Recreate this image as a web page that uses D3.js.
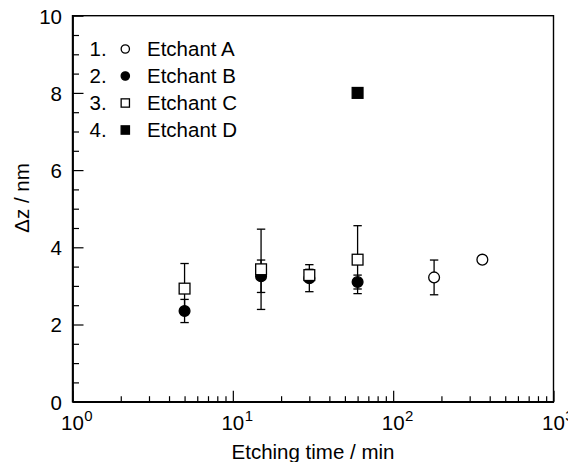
<!DOCTYPE html>
<html>
<head>
<meta charset="utf-8">
<script src="https://cdn.jsdelivr.net/npm/d3@7"></script>
<style>
  html, body { margin: 0; padding: 0; background: #fff; }
  svg { display: block; }
  text { font-family: "Liberation Sans", Arial, Helvetica, sans-serif; fill: #000; }
</style>
</head>
<body>
<svg id="chart" width="568" height="462"></svg>
<script>
// ---- data ----
const seriesNames = ["Etchant A", "Etchant B", "Etchant C", "Etchant D"];
const seriesSymbols = ["openCircle", "filledCircle", "openSquare", "filledSquare"];

const timeA = [180, 360];
const dzA   = [3.22, 3.68];
const errA  = [0.45, 0];

const timeB = [5, 15, 30, 60];
const dzB   = [2.35, 3.25, 3.2, 3.1];
const errB  = [0.3, 0.42, 0.35, 0.18];

const timeC = [5, 15, 30, 60];
const dzC   = [2.93, 3.43, 3.28, 3.68];
const errC  = [0.65, 1.04, 0.15, 0.88];

const timeD = [60];
const dzD   = [8.0];
const errD  = [0];

const xMajorTicks = [1, 10, 100, 1000];
const xTickExponents = ["0", "1", "2", "3"];
const yMajorTicks = [0, 2, 4, 6, 8, 10];
const yTickLabels = ["0", "2", "4", "6", "8", "10"];

const xTitle = "Etching time / min";
const yTitle = "\u0394z / nm";

// ---- layout ----
const FS = 20.5;
const svg = d3.select("#chart");
const L = 72.5, R = 553.5, T = 15.7, B = 401.7;

const x = d3.scaleLog().domain([1, 1000]).range([L, R]);
const y = d3.scaleLinear().domain([0, 10]).range([B, T]);

// minor ticks
const xMinor = [];
for (let d = 1; d < 1000; d *= 10) for (let k = 2; k <= 9; k++) xMinor.push(d * k);
const yMinor = d3.range(0, 10.01, 0.5).filter(v => Math.abs(v % 2) > 1e-6);

// axes via d3 (inward ticks)
const gx = svg.append("g").attr("transform", `translate(0,${B})`);
gx.call(d3.axisBottom(x).tickValues(xMinor).tickSize(-5.5).tickSizeOuter(0).tickFormat(""));
const gx2 = svg.append("g").attr("transform", `translate(0,${B})`);
gx2.call(d3.axisBottom(x).tickValues(xMajorTicks).tickSize(-11).tickSizeOuter(0).tickFormat(""));

const gy = svg.append("g").attr("transform", `translate(${L},0)`);
gy.call(d3.axisLeft(y).tickValues(yMinor).tickSize(-6.5).tickSizeOuter(0).tickFormat(""));
const gy2 = svg.append("g").attr("transform", `translate(${L},0)`);
gy2.call(d3.axisLeft(y).tickValues(yMajorTicks).tickSize(-11).tickSizeOuter(0).tickPadding(10.5)
  .tickFormat((d, i) => yTickLabels[i]));

svg.selectAll(".tick line").attr("stroke", "#000").attr("stroke-width", 1.2);
svg.selectAll(".domain").attr("stroke", "#000").attr("stroke-width", 1.4);
gy2.selectAll(".tick text").attr("font-size", FS).attr("font-family", "Liberation Sans, Arial, sans-serif")
  .attr("fill", "#000").attr("dy", "0.36em");

// frame
svg.append("rect").attr("x", L).attr("y", T).attr("width", R - L).attr("height", B - T)
  .attr("fill", "none").attr("stroke", "#000").attr("stroke-width", 1.4);

// x tick labels with superscripts
const xl = svg.append("g");
xMajorTicks.forEach((v, i) => {
  const px = x(v);
  xl.append("text").attr("x", px).attr("y", 430).attr("text-anchor", "middle")
    .attr("font-size", FS).text("10");
  xl.append("text").attr("x", px + 11.8).attr("y", 421).attr("font-size", 15).text(xTickExponents[i]);
});

// axis titles
svg.append("text").attr("x", (L + R) / 2).attr("y", 459).attr("text-anchor", "middle")
  .attr("font-size", FS).text(xTitle);
svg.append("text").attr("transform", `translate(29,198) rotate(-90)`).attr("text-anchor", "middle")
  .attr("font-size", FS).text(yTitle);

// symbols
function drawSymbol(g, type, cx, cy, size) {
  const r = size / 2;
  if (type === "openCircle" || type === "filledCircle") {
    g.append("circle").attr("cx", cx).attr("cy", cy).attr("r", r - 0.6)
      .attr("fill", type === "openCircle" ? "#fff" : "#000")
      .attr("stroke", "#000").attr("stroke-width", 1.3);
  } else {
    g.append("rect").attr("x", cx - r + 0.6).attr("y", cy - r + 0.6)
      .attr("width", size - 1.2).attr("height", size - 1.2)
      .attr("fill", type === "openSquare" ? "#fff" : "#000")
      .attr("stroke", "#000").attr("stroke-width", 1.3);
  }
}

const series = [
  { t: timeA, v: dzA, e: errA, sym: seriesSymbols[0] },
  { t: timeB, v: dzB, e: errB, sym: seriesSymbols[1] },
  { t: timeC, v: dzC, e: errC, sym: seriesSymbols[2] },
  { t: timeD, v: dzD, e: errD, sym: seriesSymbols[3] }
];

// error bars
const eb = svg.append("g");
series.forEach(s => {
  s.t.forEach((t, i) => {
    if (!s.e[i]) return;
    const px = x(t), y1 = y(s.v[i] + s.e[i]), y2 = y(s.v[i] - s.e[i]);
    eb.append("line").attr("x1", px).attr("x2", px).attr("y1", y1).attr("y2", y2)
      .attr("stroke", "#000").attr("stroke-width", 1.3);
    [y1, y2].forEach(yy => eb.append("line").attr("x1", px - 4.2).attr("x2", px + 4.2)
      .attr("y1", yy).attr("y2", yy).attr("stroke", "#000").attr("stroke-width", 1.3));
  });
});

// markers (draw B, C, A, D order)
const mk = svg.append("g");
[1, 2, 0, 3].forEach(k => {
  const s = series[k];
  s.t.forEach((t, i) => drawSymbol(mk, s.sym, x(t), y(s.v[i]), 12));
});

// legend
const lg = svg.append("g");
const rowY = [49, 76, 103, 130];
seriesNames.forEach((name, i) => {
  const cy = rowY[i];
  lg.append("text").attr("x", 89.5).attr("y", cy + 7.3).attr("font-size", FS).text((i + 1) + ".");
  drawSymbol(lg, seriesSymbols[i], 125.3, cy, 9.5);
  lg.append("text").attr("x", 147).attr("y", cy + 7.3).attr("font-size", FS).text(name);
});
</script>
</body>
</html>
